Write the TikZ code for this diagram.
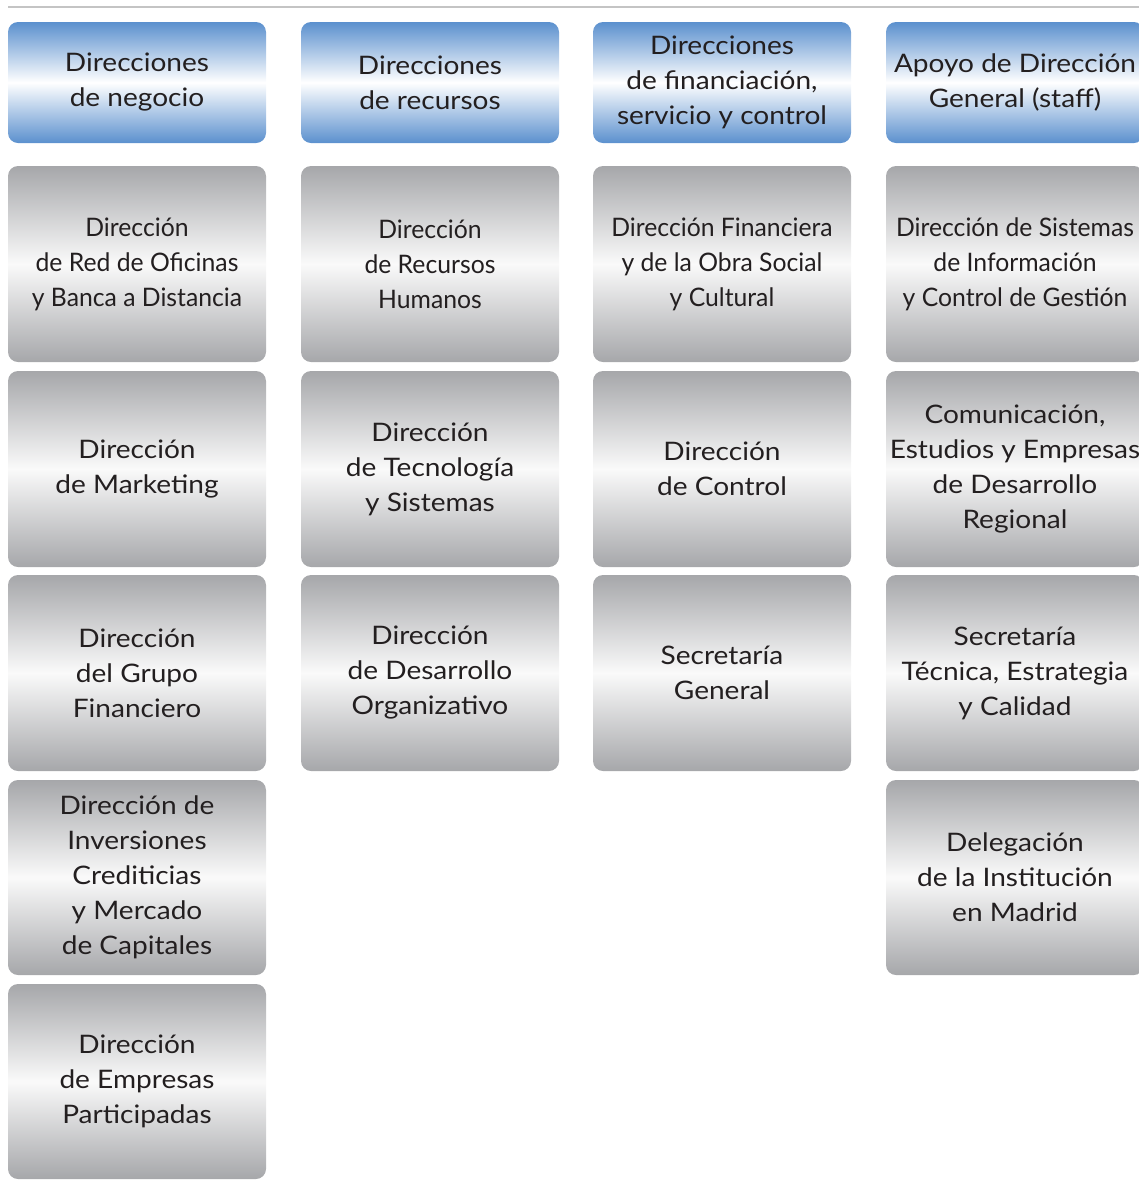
\documentclass[tikz,border=0pt]{standalone}
\usepackage{fontspec}
\setmainfont{Lato}[FakeStretch=1.1]
\newfontfamily\condfont{Lato}[FakeStretch=0.97]
\definecolor{txt}{HTML}{231F20}
\definecolor{hblue}{HTML}{5B90CE}
\definecolor{hgray}{HTML}{A6A7AA}
\definecolor{rulegray}{HTML}{C4C4C4}
\tikzset{
  box/.style={rounded corners=10pt, minimum width=258pt, inner sep=0pt,
    align=center, text=txt, font=\fontsize{25.5}{35}\selectfont},
  hdr/.style={box, minimum height=121pt, shade, top color=hblue, bottom color=hblue, middle color=white},
  cell/.style={box, minimum height=196pt, shade, top color=hgray, bottom color=hgray, middle color=white!96!gray},
  cond/.style={font=\condfont\fontsize{25.5}{35}\selectfont}
}
\begin{document}
\begin{tikzpicture}[x=1pt,y=-1pt]
\useasboundingbox (0,0) rectangle (1139,1187);
\clip (0,0) rectangle (1139,1187);
\coordinate (la) at (8,7);
\coordinate (lb) at (1139,7);
\draw[rulegray, line width=1.5pt] (la) -- (lb);
% headers
\node[hdr] (h1) at (137,82.5) {Direcciones\\de negocio};
\node[hdr] (h2) at (430,82.5) {Direcciones\\de recursos};
\node[hdr] (h3) at (722,82.5) {Direcciones\\de financiación,\\servicio y control};
\node[hdr] (h4) at (1015,82.5) {Apoyo de Dirección\\General (staff)};
% row 1
\node[cell,cond] (a1) at (137,264) {Dirección\\de Red de Oficinas\\y Banca a Distancia};
\node[cell,cond] (b1) at (430,264) {Dirección\\de Recursos\\Humanos};
\node[cell,cond] (c1) at (722,264) {Dirección Financiera\\y de la Obra Social\\y Cultural};
\node[cell,cond] (d1) at (1015,264) {Dirección de Sistemas\\de Información\\y Control de Gestión};
% row 2
\node[cell] (a2) at (137,469) {Dirección\\de Marketing};
\node[cell] (b2) at (430,469) {Dirección\\de Tecnología\\y Sistemas};
\node[cell] (c2) at (722,469) {Dirección\\de Control};
\node[cell] (d2) at (1015,469) {Comunicación,\\Estudios y Empresas\\de Desarrollo\\Regional};
% row 3
\node[cell] (a3) at (137,673) {Dirección\\del Grupo\\Financiero};
\node[cell] (b3) at (430,673) {Dirección\\de Desarrollo\\Organizativo};
\node[cell] (c3) at (722,673) {Secretaría\\General};
\node[cell] (d3) at (1015,673) {Secretaría\\Técnica, Estrategia\\y Calidad};
% row 4
\node[cell, minimum height=195pt] (a4) at (137,877.5) {Dirección de\\Inversiones\\Crediticias\\y Mercado\\de Capitales};
\node[cell, minimum height=195pt] (d4) at (1015,877.5) {Delegación\\de la Institución\\en Madrid};
% row 5
\node[cell, minimum height=195pt] (a5) at (137,1081.5) {Dirección\\de Empresas\\Participadas};
\end{tikzpicture}
\end{document}
